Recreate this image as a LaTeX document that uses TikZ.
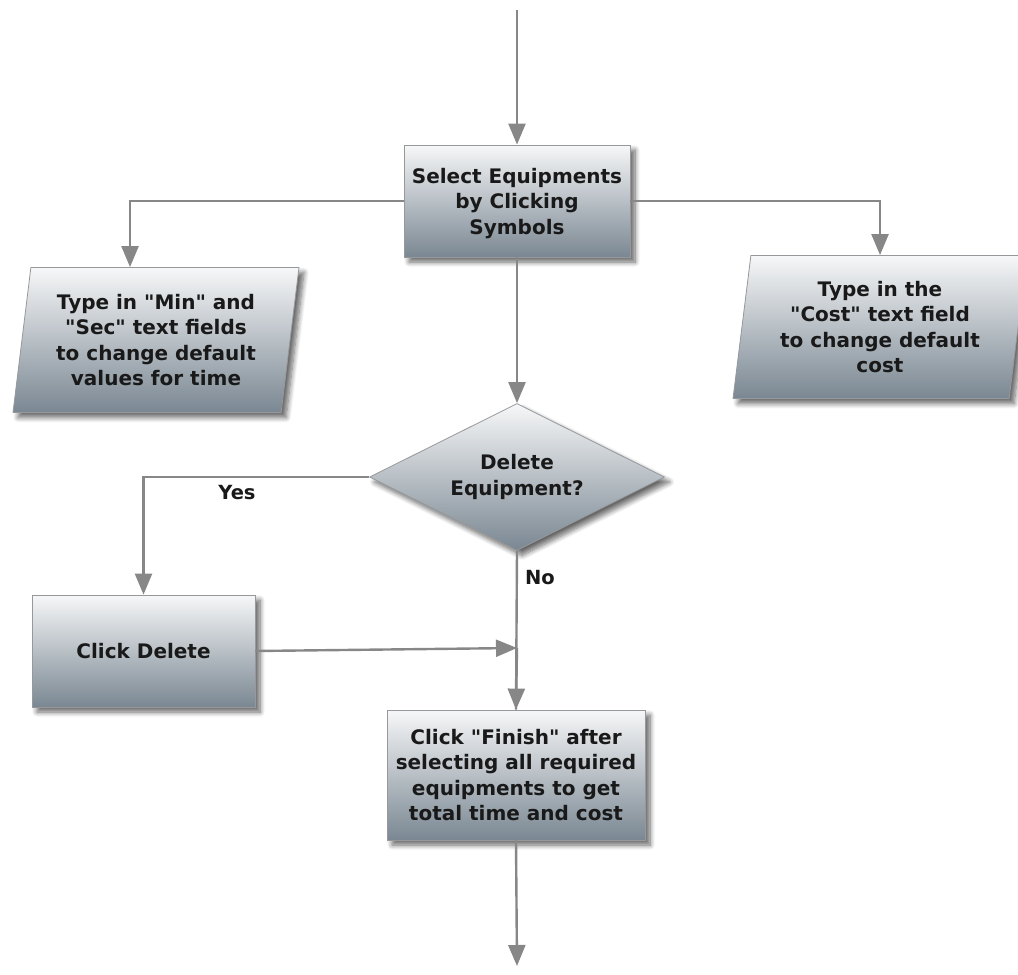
\documentclass[tikz,border=0pt]{standalone}
\usepackage{fontspec}
\setmainfont{DejaVu Sans}[Ligatures=TeXOff]
\usetikzlibrary{arrows.meta,shapes.geometric,shadows.blur,calc}
\definecolor{boxtop}{RGB}{246,247,248}
\definecolor{boxbot}{RGB}{122,135,146}
\definecolor{boxline}{RGB}{150,152,155}
\definecolor{wire}{RGB}{135,135,135}
\definecolor{ink}{RGB}{25,25,25}
\tikzset{
  base/.style={draw=boxline, line width=0.8pt, top color=boxtop, bottom color=boxbot,
    text=ink, font=\bfseries\fontsize{20}{25.5}\selectfont, align=center, inner sep=0pt,
    blur shadow={shadow xshift=5pt, shadow yshift=-5pt, shadow blur radius=5pt,
      shadow blur steps=8, shadow opacity=60}},
  procbox/.style={base, rectangle},
  iobox/.style={base, trapezium, trapezium left angle=79, trapezium right angle=101,
    trapezium stretches body},
  decide/.style={base, diamond, aspect=2},
  conn/.style={draw=wire, line width=2.4pt,
    -{Triangle[width=17pt,length=21pt]}},
  lbl/.style={text=ink, font=\bfseries\fontsize{19.5}{24}\selectfont}
}
\begin{document}
\begin{tikzpicture}[x=1pt,y=-1pt]
  \useasboundingbox (0,0) rectangle (1018,975);
  \clip (0,0) rectangle (1018,975);

  % process and decision shapes
  \node[procbox, minimum width=226pt, minimum height=112pt, text depth=-4pt] (sel) at (517,201)
    {Select Equipments\\by Clicking\\Symbols};
  \node[iobox, minimum width=286pt, minimum height=145pt] (tl) at (156,340)
    {Type in "Min" and\\"Sec" text fields\\to change default\\values for time};
  \node[iobox, minimum width=294pt, minimum height=143pt] (tr) at (880,327)
    {Type in the\\"Cost" text field\\to change default\\cost};
  \node[decide, minimum width=295pt, minimum height=147pt] (dec) at (517,477)
    {Delete\\Equipment?};
  \node[procbox, minimum width=223pt, minimum height=112pt] (del) at (143.5,651)
    {Click Delete};
  \node[procbox, minimum width=258pt, minimum height=130pt] (fin) at (516,775)
    {Click "Finish" after\\selecting all required\\equipments to get\\total time and cost};

  % free ends and join point
  \coordinate (in) at (517,10);
  \coordinate (out) at (517,966);
  \coordinate (join) at (517,648);

  % connectors
  \draw[conn] (in) -- (sel.north);
  \draw[conn] (sel.west) -| ([xshift=-26pt]tl.north);
  \draw[conn] (sel.east) -| (tr.north);
  \draw[conn] (sel.south) -- (dec.north);
  \draw[conn] (dec.west) -| (del.north);
  \draw[draw=wire, line width=2.4pt] (dec.south) -- (fin.north);
  \draw[conn] (join) -- (fin.north);
  \draw[conn] (del.east) -- (join);
  \draw[conn] (fin.south) -- (out);

  % branch labels
  \node[lbl] (yes) at (237,493) {Yes};
  \node[lbl] (no) at (540,578) {No};
\end{tikzpicture}
\end{document}
